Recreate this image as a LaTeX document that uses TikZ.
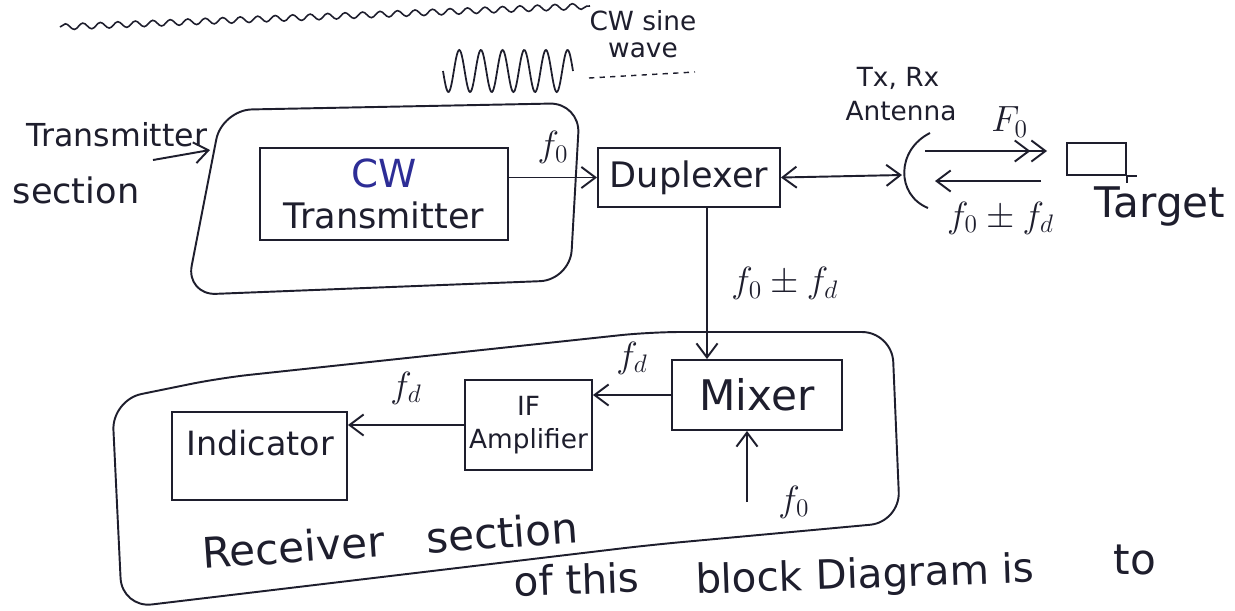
\documentclass[tikz,border=0pt]{standalone}
\usepackage{fontspec}
\setsansfont{DejaVu Sans}
\usetikzlibrary{arrows.meta,decorations.pathmorphing}
\definecolor{ink}{RGB}{30,30,45}
\definecolor{blueink}{RGB}{45,45,150}
\tikzset{
  blk/.style={draw=ink, line width=1.1pt, inner sep=0pt, align=center},
  sig/.style={draw=ink, line width=1.1pt, -{Straight Barb[length=8pt,width=12pt]}},
  twosig/.style={draw=ink, line width=1.1pt, {Straight Barb[length=8pt,width=12pt]}-{Straight Barb[length=8pt,width=12pt]}},
  fs/.style={font=\sffamily\fontsize{#1}{#1}\selectfont},
  region/.style={draw=ink, line width=1.1pt, rounded corners=0.6cm},
}
\begin{document}
\begin{tikzpicture}[x=0.02cm, y=-0.02cm, font=\sffamily\fontsize{20}{23}\selectfont, text=ink]
\fill[white] (0,0) rectangle (1235,610);
\useasboundingbox (0,0) rectangle (1235,610);

% scribbled heading
\draw[ink, line width=0.9pt, decorate, decoration={snake, amplitude=0.06cm, segment length=0.35cm}] (60,27) -- (590,6);

% transmitter section
\draw[region] (222,110) -- (580,103) -- (570,280) -- (186,295) -- cycle;
\node[blk, minimum width=4.96cm, minimum height=1.84cm] (cwtx) at (384,194) {{\color{blueink}\fontsize{22}{23}\selectfont CW}\\Transmitter};
\node[fs=18] (txtit) at (117,135) {Transmitter};
\node[fs=20] (txsec) at (76,190) {section};
\coordinate (txtail) at (153,160);
\coordinate (txhead) at (210,150);
\draw[sig] (txtail) -- (txhead);

% cw sine wave
\draw[ink, line width=1pt, smooth] plot[domain=0:2160, samples=160] ({443+\x/2160*130}, {71+21*sin(\x)});
\coordinate (wvend) at (589,78);
\coordinate (cwlead) at (695,72);
\draw[ink, line width=0.8pt, dashed] (wvend) -- (cwlead);
\node[fs=15, inner sep=0pt] (cwlab) at (643,21) {CW sine};
\node[fs=15, inner sep=0pt] (wavelab) at (643,50) {wave};

% duplexer and antenna
\node[blk, minimum width=3.64cm, minimum height=1.18cm] (dup) at (689,177.5) {Duplexer};
\draw[sig] (dup.west -| cwtx.east) -- (dup.west) node[midway, above=4pt] {$f_0$};
\coordinate (ant) at (902,175);
\draw[ink, line width=1.1pt] (930,133) .. controls (896,150) and (896,195) .. (928,208);
\draw[twosig] (dup.east) -- (ant);
\node[fs=15, inner sep=0pt] (txrx) at (898,78) {Tx, Rx};
\node[fs=15, inner sep=0pt] (antlab) at (901,111) {Antenna};

% target
\node[blk, minimum width=1.18cm, minimum height=0.64cm] (tgt) at (1096.5,159) {};
\draw[ink, line width=1.1pt] (tgt.south east) -- ++(10,0);
\draw[ink, line width=1.1pt] (tgt.south east) -- ++(0,7);
\node[fs=24] (tgtlab) at (1160,207) {Target};
\coordinate (antup) at (925,151);
\coordinate (antdn) at (935,181);
\draw[draw=ink, line width=1.1pt, -{Straight Barb[length=8pt,width=12pt]Straight Barb[length=8pt,width=12pt]}, shorten >=0.38cm] (antup) -- (antup -| tgt.west) node[pos=0.6, above=4pt] {$F_0$};
\draw[sig, shorten <=0.5cm] (antdn -| tgt.west) -- (antdn) node[midway, below=8pt] {$f_0\pm f_d$};

% receiver section
\draw[region] (112,400) -- (220,378) -- (650,332) -- (892,332) -- (900,522) -- (650,545) -- (122,608) -- cycle;
\node[blk, minimum width=3.4cm, minimum height=1.4cm, fs=24] (mix) at (757,395) {Mixer};
\node[blk, minimum width=2.54cm, minimum height=1.8cm, font=\sffamily\fontsize{15}{19}\selectfont] (ifa) at (528.5,425) {IF\\Amplifier};
\node[blk, minimum width=3.5cm, minimum height=1.76cm] (ind) at (259.5,456) {};
\node[fs=19] (indlab) at (260,443) {Indicator};
\draw[sig] ([xshift=0.36cm]dup.south) -- ([xshift=0.36cm]dup.south |- mix.north) node[midway, right=10pt] {$f_0\pm f_d$};
\draw[sig] (mix.west) -- (mix.west -| ifa.east) node[midway, above=8pt] {$f_d$};
\draw[sig] (ifa.west) -- (ifa.west -| ind.east) node[midway, above=8pt] {$f_d$};
\coordinate (lo) at (747,502);
\draw[sig] (lo) -- (lo |- mix.south) node[at start, right=14pt] {$f_0$};
\node[fs=24, rotate=4] (rxlab) at (390,540) {Receiver\quad section};

% note below
\node[fs=23, rotate=2, anchor=base east, inner sep=1pt] (note1) at (642,592) {of this};
\node[fs=23, rotate=2, anchor=base west, inner sep=1pt] (note2) at (694,594) {block Diagram is};
\node[fs=24] (note3) at (1135,560) {to};
\end{tikzpicture}
\end{document}
